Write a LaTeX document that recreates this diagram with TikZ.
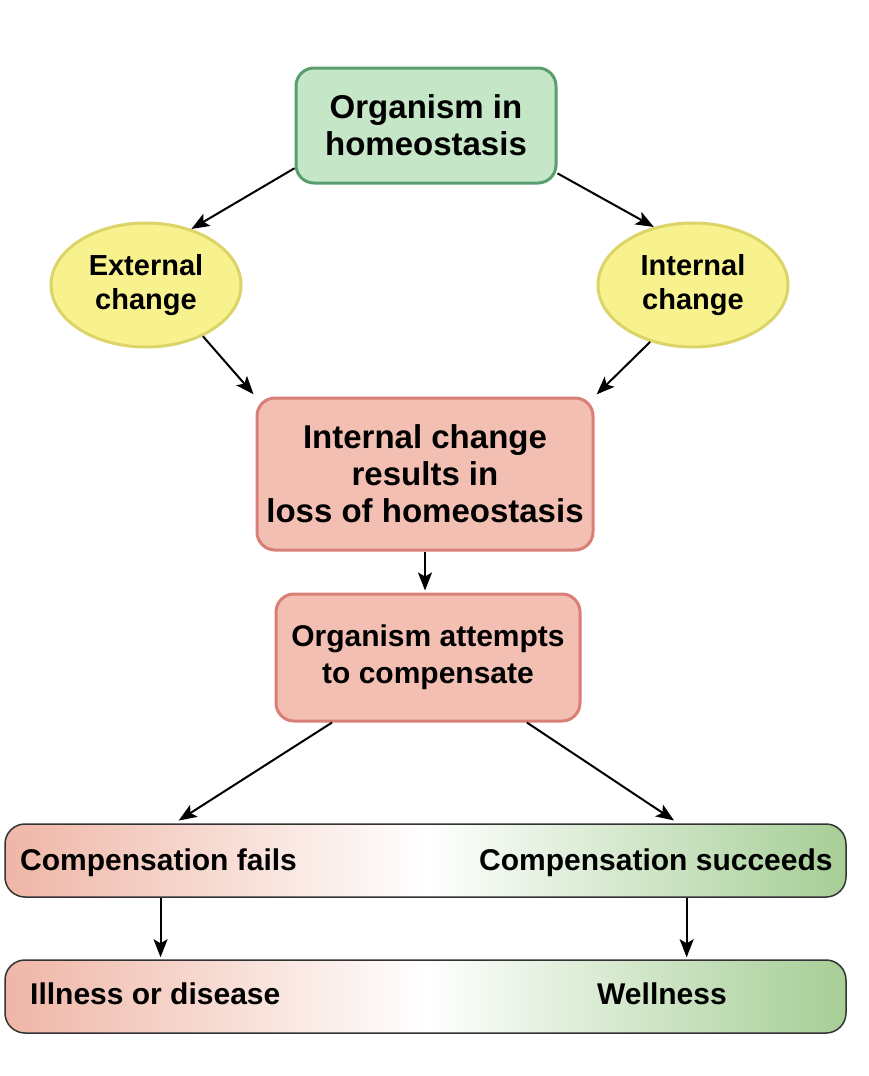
\documentclass[tikz,border=0pt]{standalone}
\usepackage{fontspec}
\setmainfont{Liberation Sans}
\usetikzlibrary{arrows.meta,calc,shapes.geometric}
\definecolor{gfill}{HTML}{C6E6C8}
\definecolor{gline}{HTML}{5A9E6E}
\definecolor{yfill}{HTML}{F7F28E}
\definecolor{yline}{HTML}{DDD468}
\definecolor{pfill}{HTML}{F3BFB3}
\definecolor{pline}{HTML}{D97F76}
\definecolor{barl}{HTML}{EFB6A6}
\definecolor{barr}{HTML}{A6CE96}
\begin{document}
\begin{tikzpicture}[x=1pt,y=-1pt,
  greenbox/.style={draw=gline, fill=gfill, line width=3pt, rounded corners=18pt, align=center, inner sep=0pt,
    font=\bfseries\fontsize{33}{37}\selectfont},
  pinkbox/.style={draw=pline, fill=pfill, line width=3pt, rounded corners=18pt, align=center, inner sep=0pt},
  yell/.style={ellipse, draw=yline, fill=yfill, line width=3pt, align=center, inner sep=0pt,
    minimum width=190pt, minimum height=124pt, font=\bfseries\fontsize{29}{34}\selectfont},
  bar/.style={draw=black!80, line width=1.5pt, rounded corners=20pt, left color=barl, right color=barr, middle color=white,
    minimum width=841pt, minimum height=73pt, inner sep=0pt},
  bartext/.style={anchor=base west, inner sep=0pt, font=\bfseries\fontsize{30}{34}\selectfont},
  arr/.style={-{Stealth[length=18pt,width=14pt,inset=4pt]}, line width=2pt, black}
]
\useasboundingbox (0,0) rectangle (868,1076);
\fill[white] (0,0) rectangle (868,1076);

\node[greenbox, minimum width=260pt, minimum height=115pt] (top) at (426,125.5) {Organism in\\homeostasis};
\node[yell] (ext) at (146,285) {External\\change};
\node[yell] (int) at (693,285) {Internal\\change};
\node[pinkbox, minimum width=336pt, minimum height=152pt, font=\bfseries\fontsize{33}{37}\selectfont] (mid) at (425,474) {Internal change\\results in\\loss of homeostasis};
\node[pinkbox, minimum width=304pt, minimum height=127pt, font=\bfseries\fontsize{30}{37}\selectfont] (comp) at (428,657.5) {Organism attempts\\to compensate};

\node[bar] (bar1) at (425.5,860.5) {};
\node[bar] (bar2) at (425.5,996.5) {};
\node[bartext] (fails) at (20,870) {Compensation fails};
\node[bartext] (succ) at (479,870) {Compensation succeeds};
\node[bartext] (ill) at (30,1004) {Illness or disease};
\node[bartext] (well) at (597,1004) {Wellness};

\draw[arr] (top.198) -- (ext.51);
\draw[arr] (top.-20) -- (int.124);
\draw[arr, shorten >=3pt] (ext.-42) -- (mid.north west);
\draw[arr, shorten >=3pt] (int.-127) -- (mid.north east);
\draw[arr, shorten >=2pt] (mid.south) -- (mid.south |- comp.north);
\draw[arr, shorten >=5pt] ($(comp.south west)!0.1875!(comp.south east)$) -- ($(bar1.north west)!0.202!(bar1.north east)$);
\draw[arr, shorten >=5pt] ($(comp.south west)!0.822!(comp.south east)$) -- ($(bar1.north west)!0.80!(bar1.north east)$);
\draw[arr, shorten >=2pt] ($(bar1.south west)!0.1855!(bar1.south east)$) -- ($(bar2.north west)!0.1855!(bar2.north east)$);
\draw[arr, shorten >=2pt] ($(bar1.south west)!0.81!(bar1.south east)$) -- ($(bar2.north west)!0.81!(bar2.north east)$);
\end{tikzpicture}
\end{document}
